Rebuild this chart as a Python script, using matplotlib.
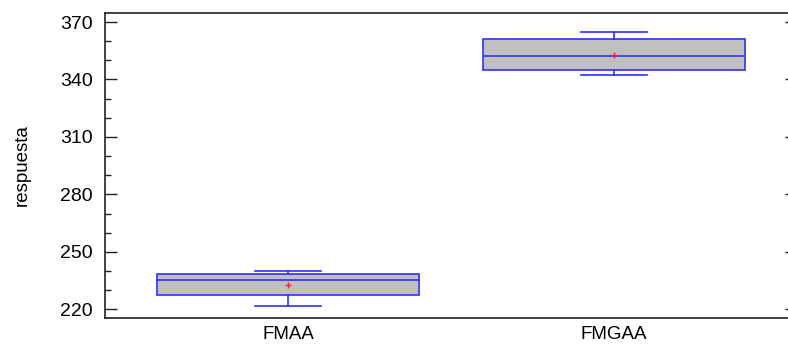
import matplotlib
matplotlib.use("Agg")
import matplotlib.pyplot as plt
from matplotlib.ticker import FixedLocator

# box statistics
groups = ['FMAA', 'FMGAA']
whislo = [221.6, 342.5]
q1 = [227.3, 344.8]
med = [235.3, 352.1]
q3 = [238.4, 361.1]
whishi = [240.2, 364.9]
means = [232.5, 352.6]

yticks = [220, 250, 280, 310, 340, 370]
yminor = [230, 240, 260, 270, 290, 300, 320, 330, 350, 360]

plt.rcParams['font.family'] = ['Liberation Sans', 'DejaVu Sans']

fig = plt.figure(figsize=(7.88, 3.45), dpi=100)
ax = fig.add_axes([105 / 788, 27 / 345, 692 / 788, 305 / 345])

stats = []
for i, g in enumerate(groups):
    stats.append(dict(label=g, whislo=whislo[i], q1=q1[i], med=med[i],
                      q3=q3[i], whishi=whishi[i], mean=means[i], fliers=[]))

blue = '#2f2fff'
ax.bxp(stats, positions=[1, 2], widths=0.804, patch_artist=True,
       showmeans=True, showfliers=False,
       boxprops=dict(facecolor='#c0c0c0', edgecolor=blue, linewidth=1.2),
       medianprops=dict(color=blue, linewidth=1.2),
       whiskerprops=dict(color=blue, linewidth=1.2),
       capprops=dict(color=blue, linewidth=1.2),
       capwidths=0.2,
       meanprops=dict(marker='+', markeredgecolor='#ff2020', markersize=4,
                      markeredgewidth=1.0))

ax.set_xlim(0.439, 2.561)
ax.set_ylim(215.5, 374.7)
ax.yaxis.set_major_locator(FixedLocator(yticks))
ax.yaxis.set_minor_locator(FixedLocator(yminor))
ax.tick_params(axis='y', which='major', direction='in', length=8.6, width=1,
               labelsize=14, pad=8.6, right=True, color='#222222')
ax.tick_params(axis='y', which='minor', direction='in', length=4.3, width=1,
               right=False, color='#222222')
ax.tick_params(axis='x', length=0, labelsize=13.5, pad=6)
ax.set_ylabel('respuesta', fontsize=13.5, labelpad=21)

for s in ax.spines.values():
    s.set_color('#222222')
    s.set_linewidth(1.2)

fig.savefig('out.png', dpi=100)
